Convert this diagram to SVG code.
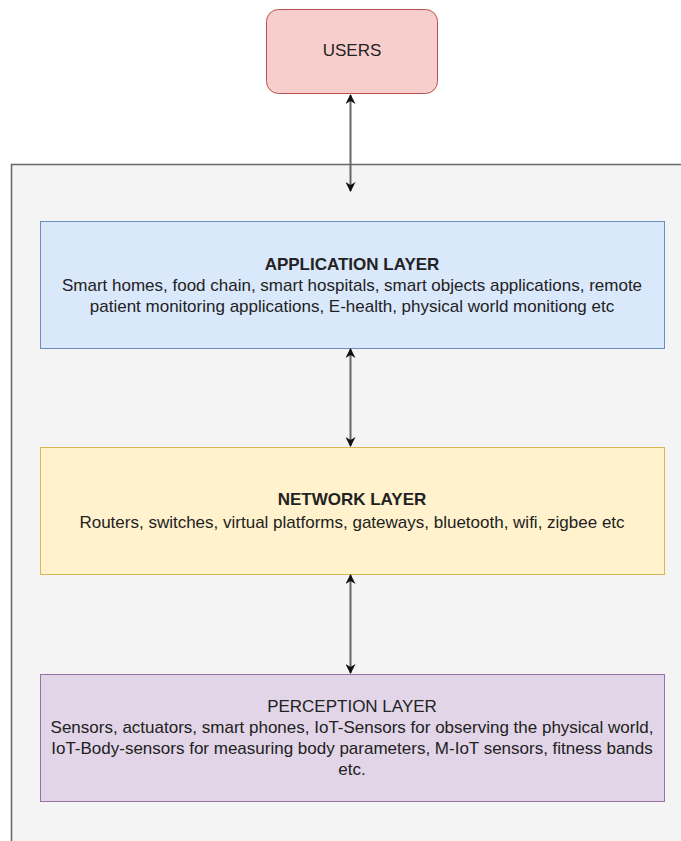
<svg xmlns="http://www.w3.org/2000/svg" width="681" height="841" viewBox="0 0 681 841">
<style>
text{font-family:"Liberation Sans",Arial,sans-serif;font-size:17px;fill:#222;text-anchor:middle}
.b{font-weight:bold}
.c{stroke:#666;stroke-width:2;fill:none}
</style>
<defs>
<marker id="ah" viewBox="0 0 10 10" refX="9" refY="5" markerWidth="10" markerHeight="10" markerUnits="userSpaceOnUse" orient="auto-start-reverse">
<path d="M0,0 L10,5 L0,10 L3,5 Z" fill="#111"/>
</marker>
</defs>
<rect width="681" height="841" fill="#fff"/>
<g id="container">
<rect x="11.5" y="164.5" width="700" height="700" fill="#f4f4f4" stroke="#666" stroke-width="1.5"/>
</g>
<g id="users">
<rect x="266.5" y="9.5" width="171" height="84" rx="12" fill="#f8cecc" stroke="#b85450"/>
<text x="352" y="56">USERS</text>
</g>
<g id="application">
<rect x="40.5" y="221.5" width="624" height="127" fill="#dae8fc" stroke="#6c8ebf"/>
<text x="352" y="270" class="b">APPLICATION LAYER</text>
<text x="352" y="291">Smart homes, food chain, smart hospitals, smart objects applications, remote</text>
<text x="352" y="312">patient monitoring applications, E-health, physical world monitiong etc</text>
</g>
<g id="network">
<rect x="40.5" y="447.5" width="624" height="127" fill="#fff2cc" stroke="#d6b656"/>
<text x="352" y="505" class="b">NETWORK LAYER</text>
<text x="352" y="528">Routers, switches, virtual platforms, gateways, bluetooth, wifi, zigbee etc</text>
</g>
<g id="perception">
<rect x="40.5" y="674.5" width="624" height="127" fill="#e1d5e7" stroke="#9673a6"/>
<text x="352" y="712">PERCEPTION LAYER</text>
<text x="352" y="733">Sensors, actuators, smart phones, IoT-Sensors for observing the physical world,</text>
<text x="352" y="754">IoT-Body-sensors for measuring body parameters, M-IoT sensors, fitness bands</text>
<text x="352" y="775">etc.</text>
</g>
<g id="connectors">
<line class="c" x1="350.5" y1="95" x2="350.5" y2="191" marker-start="url(#ah)" marker-end="url(#ah)"/>
<line class="c" x1="350.5" y1="349" x2="350.5" y2="446" marker-start="url(#ah)" marker-end="url(#ah)"/>
<line class="c" x1="350.5" y1="575" x2="350.5" y2="673" marker-start="url(#ah)" marker-end="url(#ah)"/>
</g>
</svg>
